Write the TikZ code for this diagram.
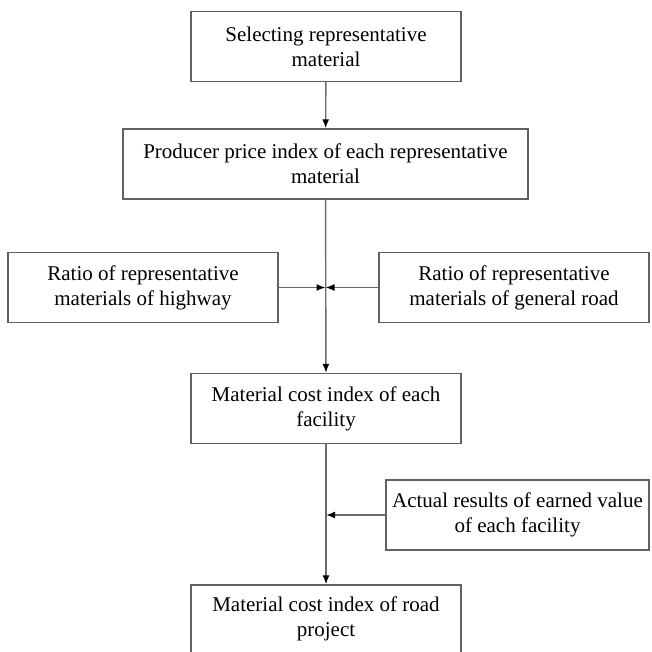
\documentclass[tikz,border=0pt]{standalone}
\usepackage{fontspec}
\setmainfont{Liberation Serif}
\usetikzlibrary{arrows.meta}
\begin{document}
\begin{tikzpicture}[x=1pt,y=-1pt,
  box/.style={draw=black!62, line width=1.4pt, rectangle, inner sep=0pt, align=center,
    font=\fontsize{21}{25}\selectfont, minimum height=70pt},
  conn/.style={draw=black!58, line width=1.4pt, -{Latex[length=9pt,width=7pt,black]}}]
\useasboundingbox (0,0) rectangle (651,652);
\node[box, minimum width=270pt] (b1) at (326,46.5) {Selecting representative\\material};
\node[box, minimum width=405pt] (b2) at (325.5,164) {Producer price index of each representative\\material};
\node[box, minimum width=270pt] (left) at (143,287.5) {Ratio of representative\\materials of highway};
\node[box, minimum width=270pt] (right) at (514,287.5) {Ratio of representative\\materials of general road};
\node[box, minimum width=270pt] (b3) at (326,408.5) {Material cost index of each\\facility};
\node[box, minimum width=263pt] (b4) at (517.5,515) {Actual results of earned value\\of each facility};
\node[box, minimum width=270pt, minimum height=68pt] (b5) at (326,619) {Material cost index of road\\project};
\coordinate (j1) at (b2.south |- left.east);
\coordinate (j2) at (b3.south |- b4.west);
\draw[conn] (b1) -- (b2);
\draw[conn] (b2) -- (b3);
\draw[conn] (left) -- (j1);
\draw[conn] (right) -- (j1);
\draw[conn] (b3) -- (b5);
\draw[conn] (b4) -- (j2);
\end{tikzpicture}
\end{document}
